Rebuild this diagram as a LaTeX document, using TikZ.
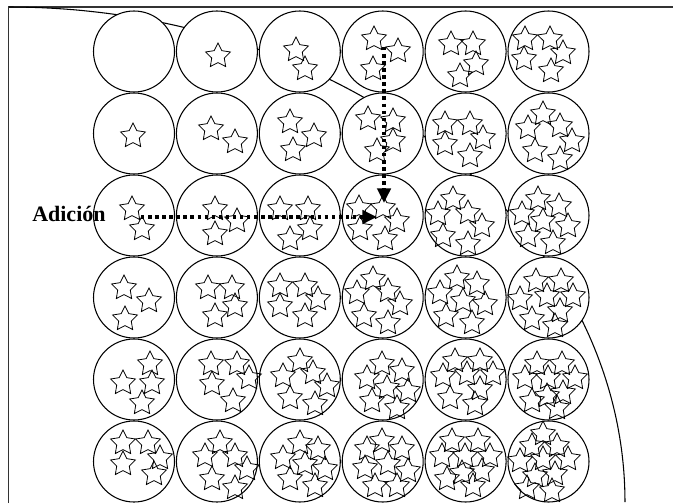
\documentclass[tikz,border=0pt]{standalone}
\usepackage{fontspec}
\setmainfont{Liberation Serif}
\usetikzlibrary{arrows.meta}
\begin{document}
\begin{tikzpicture}[x=0.75pt,y=-0.75pt,
  cell/.style={circle,draw=black,line width=0.8pt,fill=white,minimum size=60.75pt,inner sep=0pt},
  starline/.style={draw=black,line width=0.6pt},
  frameline/.style={draw=black!80,line width=1.1pt},
  arcline/.style={draw=black,line width=0.8pt},
  dotline/.style={line width=2.6pt,dash pattern=on 2.6pt off 2.7pt,-{Triangle[length=11pt,width=10pt]}},
  starpic/.pic={\path[starline]
     (0,1) +(270:13) -- +(306:6.6) -- +(342:13) -- +(18:6.6) -- +(54:13) -- +(90:6.6)
     -- +(126:13) -- +(162:6.6) -- +(198:13) -- +(234:6.6) -- cycle;}
]
\useasboundingbox (0,0) rectangle (673,503);
% frame and arc
\draw[frameline] (8.5,503) -- (8.5,7) -- (673,7);
\draw[arcline] plot[domain=90:0,samples=120] ({9+616*cos(\x)},{502-495*sin(\x)});
% circles
\foreach \i in {1,...,6}{
  \foreach \j in {1,...,6}{
    \node[cell] (c-\i-\j) at ({134+82.9*(\j-1)},{51.5+82*(\i-1)}) {};
  }
}
% stars
\foreach \sx/\sy in {
218/55,
296/49,305/68,
374/38,398/50,373/68,
451/43,473/43,476/63,460/75,
525/38,550/38,563/52,524/58,551/70,
133/135,
211/128,235/141,
290/121,314/135,293/149,
368/118,393/120,393/140,377/150,
445/123,470/123,483/137,445/143,470/155,
543/113,528/127,560/125,572/140,535/150,560/158,
132/208,142/228,
215/208,237/220,215/233,
280/208,308/208,310/228,290/238,
359/207,383/207,397/220,360/228,385/238,
453/198,438/213,468/212,482/225,443/235,468/243,
538/198,559/205,522/213,543/220,568/225,528/235,553/242,
124/287,149/300,125/318,
208/287,232/287,235/305,215/315,
280/285,305/285,318/298,280/305,305/315,
373/278,357/292,388/290,400/303,364/315,388/322,
457/277,477/283,440/292,463/300,485/303,446/315,472/322,
536/280,561/280,520/298,547/295,573/295,560/310,532/318,555/325,
150/363,123/382,152/382,142/402,
211/363,237/363,212/383,249/377,233/400,
300/360,283/375,313/372,327/385,290/397,315/403,
382/363,402/370,367/377,387/387,408/390,372/400,397/407,
455/360,480/360,443/375,467/373,493/373,480/388,450/397,475/403,
537/363,562/363,525/377,548/377,575/377,563/392,532/400,547/395,557/407,
123/442,148/442,160/457,123/463,154/473,
220/442,205/455,235/455,247/468,212/478,235/487,
300/442,318/448,283/457,305/463,325/468,290/478,315/485,
382/440,367/448,402/448,365/467,388/463,408/470,375/485,397/485,
452/440,478/440,442/455,465/455,490/455,462/472,482/470,447/478,473/485,
543/433,532/445,557/445,520/460,543/458,568/458,555/473,535/475,527/487,552/490}
  { \pic at (\sx,\sy) {starpic}; }
% label
\node[font=\bfseries\fontsize{16.5}{19}\selectfont,anchor=base west,inner sep=0pt] (lab) at (32,221) {Adición};
% arrows
\coordinate (hs) at (141,217);
\coordinate (he) at (377,217);
\coordinate (vs) at (384,47);
\coordinate (ve) at (384,203);
\draw[dotline] (hs) -- (he);
\draw[dotline] (vs) -- (ve);
\end{tikzpicture}
\end{document}
